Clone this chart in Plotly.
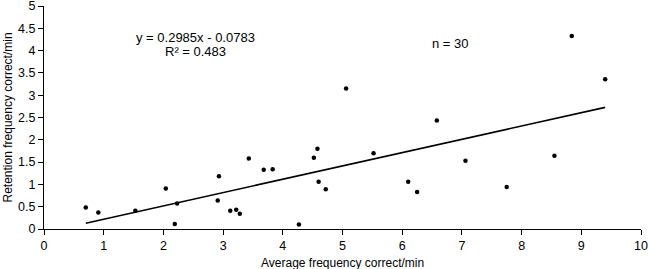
import plotly.graph_objects as go

avg_freq = [0.70, 0.91, 1.53, 2.04, 2.23, 2.19, 2.93, 2.91, 3.12, 3.22,
            3.28, 3.43, 3.68, 3.83, 4.27, 4.52, 4.58, 4.60, 4.72, 5.06,
            5.52, 6.10, 6.25, 6.58, 7.06, 7.75, 8.55, 8.84, 9.40]
retention = [0.48, 0.37, 0.41, 0.91, 0.57, 0.11, 1.18, 0.64, 0.41, 0.43,
             0.34, 1.58, 1.33, 1.34, 0.10, 1.60, 1.80, 1.06, 0.89, 3.15,
             1.70, 1.06, 0.83, 2.43, 1.53, 0.94, 1.64, 4.33, 3.36]
slope = 0.2985
intercept = -0.0783
x_ticks = list(range(0, 11))
y_ticks = [0, 0.5, 1, 1.5, 2, 2.5, 3, 3.5, 4, 4.5, 5]
y_tick_labels = ["0", "0.5", "1", "1.5", "2", "2.5", "3", "3.5", "4", "4.5", "5"]

fx = [min(avg_freq), max(avg_freq)]
fy = [slope * v + intercept for v in fx]

font = "Liberation Sans, Arial, sans-serif"
fig = go.Figure()
fig.add_trace(go.Scatter(x=avg_freq, y=retention, mode="markers",
                         marker=dict(color="black", size=4.5), showlegend=False,
                         cliponaxis=False))
fig.add_trace(go.Scatter(x=fx, y=fy, mode="lines",
                         line=dict(color="black", width=1.6), showlegend=False))

fig.add_annotation(x=2.54, y=4.30, xref="x", yref="y", showarrow=False,
                   text="y = 0.2985x - 0.0783",
                   font=dict(family=font, size=13, color="black"))
fig.add_annotation(x=2.54, y=3.99, xref="x", yref="y", showarrow=False,
                   text="R² = 0.483",
                   font=dict(family=font, size=13, color="black"))
fig.add_annotation(x=6.81, y=4.17, xref="x", yref="y", showarrow=False,
                   text="n = 30", font=dict(family=font, size=13, color="black"))
# axis titles
fig.add_annotation(x=0.5, y=0, xref="paper", yref="paper", showarrow=False,
                   yanchor="middle", yshift=-34,
                   text="Average frequency correct/min",
                   font=dict(family=font, size=12, color="black"))
fig.add_annotation(x=0, y=0.5, xref="paper", yref="paper", showarrow=False,
                   xanchor="center", xshift=-37, textangle=-90,
                   text="Retention frequency correct/min",
                   font=dict(family=font, size=12, color="black"))

fig.update_layout(
    width=649, height=269,
    margin=dict(l=44, r=8, t=6, b=40, autoexpand=False),
    plot_bgcolor="white", paper_bgcolor="white",
    font=dict(family=font, size=12, color="black"),
    xaxis=dict(range=[0, 10], tickvals=x_ticks, showgrid=False, zeroline=False,
               showline=True, linecolor="black", linewidth=1, automargin=False,
               ticks="outside", ticklen=5, tickcolor="black",
               ticklabeloverflow="allow", tickfont=dict(size=12.5)),
    yaxis=dict(range=[0, 5], tickvals=y_ticks, ticktext=y_tick_labels,
               showgrid=False, zeroline=False, automargin=False,
               showline=True, linecolor="black", linewidth=1,
               ticks="outside", ticklen=5, tickcolor="black",
               ticklabeloverflow="allow", tickfont=dict(size=12.5)),
)
fig.write_html("out.html", config={"displayModeBar": False},
               post_script="document.body.style.margin='0';document.body.style.overflow='hidden';")
